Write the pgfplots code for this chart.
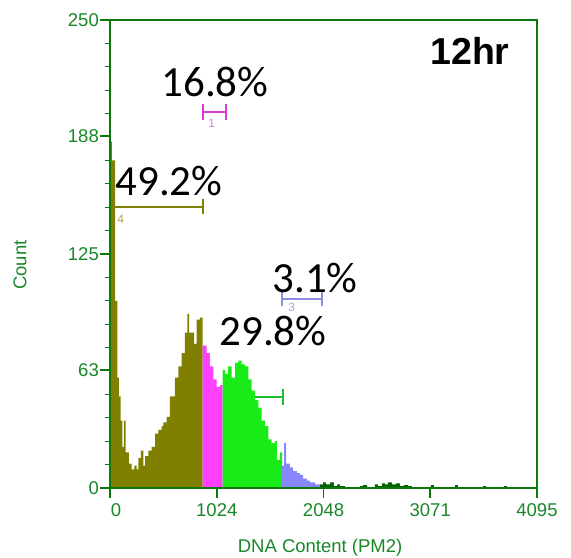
\documentclass[border=0pt]{standalone}
\usepackage{pgfplots}
\pgfplotsset{compat=1.18}
\usepackage{fontspec}
\setmainfont{Liberation Sans}
\newfontfamily\calib{Carlito}
\definecolor{axgreen}{RGB}{10,120,10}
\definecolor{labgreen}{RGB}{25,135,40}
\definecolor{olivec}{RGB}{128,128,0}
\definecolor{magc}{RGB}{255,64,255}
\definecolor{limec}{RGB}{25,235,25}
\definecolor{bluec}{RGB}{135,135,250}
\definecolor{noisec}{RGB}{0,100,0}
\definecolor{mk1}{RGB}{215,60,215}
\definecolor{mk1l}{RGB}{225,120,225}
\definecolor{mk2}{RGB}{30,190,50}
\definecolor{mk3}{RGB}{140,140,225}
\definecolor{mk3l}{RGB}{165,165,230}
\definecolor{mk4}{RGB}{128,128,0}
\definecolor{mk4l}{RGB}{175,165,70}
\begin{document}
\begin{tikzpicture}
\useasboundingbox (-110bp,-70bp) rectangle (461bp,488bp);
\begin{axis}[
  at={(0,0)}, anchor=south west,
  scale only axis, width=427bp, height=468bp,
  xmin=0, xmax=4095, ymin=0, ymax=250,
  axis on top,
  xtick={0,1024,2048,3071,4095},
  xticklabels={\hspace*{12bp}0,1024,2048,3071,4095},
  ytick={0,63,125,188,250},
  yticklabels={0,63,125,188,250},
  minor ytick={12.5,25,37.5,50,75,87.5,100,112.5,137.5,150,162.5,175,200,212.5,225,237.5},
  xtick pos=left, ytick pos=left,
  tick align=outside,
  major tick length=10bp, minor tick length=5bp,
  axis line style={axgreen, line width=1.6bp},
  every tick/.style={axgreen, line width=1.6bp},
  minor tick style={axgreen, line width=1.3bp},
  xticklabel style={font=\fontsize{18.5bp}{20bp}\selectfont, text=labgreen, yshift=-2bp},
  yticklabel style={font=\fontsize{18.5bp}{20bp}\selectfont, text=labgreen, inner xsep=1bp},
  xlabel={DNA Content (PM2)},
  xlabel style={at={(axis description cs:0.492,-0.128)}, anchor=center, font=\fontsize{18.5bp}{20bp}\selectfont, text=labgreen},
  ylabel={Count},
  ylabel style={at={(axis description cs:-0.211,0.476)}, anchor=center, rotate=0, font=\fontsize{18.5bp}{20bp}\selectfont, text=labgreen},
]
% markers (gates)
\addplot[mk4, line width=2bp] coordinates {(0,150.3) (889,150.3)};
\addplot[mk4, line width=2bp] coordinates {(889,146.3) (889,154.3)};
\addplot[mk2, line width=2bp] coordinates {(1079,48.8) (1662,48.8)};
\addplot[mk2, line width=2bp] coordinates {(1662,44.6) (1662,53)};
% histogram
\addplot[const plot, fill=olivec, draw=none] coordinates {
(0,185) (19,175) (48,100) (70,59) (86,49) (103,36) (118,22) (134,36) (151,19) (182,13) (208,10) (233,12) (256,10) (271,16) (297,20) (319,12) (336,17) (367,20) (400,22) (432,29) (463,31) (496,33) (511,35) (544,38) (575,49) (623,59) (655,65) (688,72) (719,83) (741,93) (760,83) (784,83) (806,77) (831,90) (863,91) (889,91)
} \closedcycle;
\addplot[const plot, fill=magc, draw=none] coordinates {
(889,76) (927,72) (959,65) (991,58) (1023,54) (1055,55) (1079,55)
} \closedcycle;
\addplot[const plot, fill=limec, draw=none] coordinates {
(1079,63) (1103,61) (1132,65) (1167,59) (1199,67) (1230,68) (1263,66) (1295,65) (1326,58) (1359,52) (1391,47) (1422,43) (1455,36) (1486,33) (1518,26) (1551,24) (1582,25) (1600,15) (1630,19) (1650,19)
} \closedcycle;
\addplot[const plot, fill=bluec, draw=none] coordinates {
(1650,12) (1669,24) (1688,13) (1726,11) (1755,9) (1793,8) (1822,7) (1851,5) (1889,4) (1918,3) (1966,2) (2014,2)
} \closedcycle;
\addplot[const plot, fill=noisec, draw=none] coordinates {
(2014,2) (2043,3) (2071,2) (2110,3) (2148,1) (2177,2) (2206,1) (2254,0) (2398,1) (2426,1.5) (2465,0) (2541,2) (2570,1) (2608,2.5) (2637,2) (2666,3) (2704,2) (2743,2.5) (2781,1) (2819,1.5) (2858,1) (2896,0.5) (2973,0) (3078,1.5) (3107,0) (3309,1.5) (3337,0) (3577,1) (3606,0) (3778,1) (3807,1)
} \closedcycle;
% markers drawn above
\addplot[mk1, line width=2bp] coordinates {(889,201) (1115,201)};
\addplot[mk1, line width=2bp] coordinates {(889,196.7) (889,205.3)};
\addplot[mk1, line width=2bp] coordinates {(1115,196.7) (1115,205.3)};
\addplot[mk3, line width=2bp] coordinates {(1650,101) (2033,101)};
\addplot[mk3, line width=2bp] coordinates {(1650,97) (1650,105)};
\addplot[mk3, line width=2bp] coordinates {(2033,97) (2033,105)};
% gate numbers
\node[text=mk1l, font=\fontsize{12bp}{12bp}\selectfont] at (axis cs:976,194.7) {1};
\node[text=mk4l, font=\fontsize{12bp}{12bp}\selectfont] at (axis cs:103,143.7) {4};
\node[text=mk3l, inner sep=0pt, font=\fontsize{12bp}{12bp}\selectfont] at (axis cs:1742,96.5) {3};
% percentages
\node[anchor=base, inner sep=0pt, font=\calib\fontsize{43bp}{45bp}\selectfont] at (axis cs:1007,209.4) {16.8\%};
\node[anchor=base, inner sep=0pt, font=\calib\fontsize{43bp}{45bp}\selectfont] at (axis cs:566,156) {49.2\%};
\node[anchor=base, inner sep=0pt, font=\calib\fontsize{43bp}{45bp}\selectfont] at (axis cs:1966,104.7) {3.1\%};
\node[anchor=base, inner sep=0pt, font=\calib\fontsize{43bp}{45bp}\selectfont] at (axis cs:1563,75.9) {29.8\%};
\node[anchor=base, inner sep=0pt, font=\bfseries\fontsize{37.5bp}{40bp}\selectfont] at (axis cs:3452,226) {12hr};
\end{axis}
\end{tikzpicture}
\end{document}
